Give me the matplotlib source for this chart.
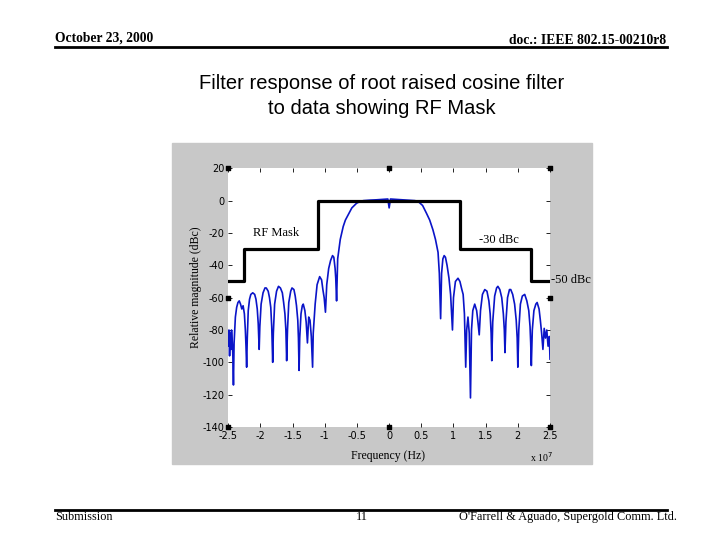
import matplotlib
matplotlib.use("Agg")
import matplotlib.pyplot as plt
from matplotlib.patches import Rectangle

plt.rcParams["axes.unicode_minus"] = False

# frequency in units of 1e7 Hz, magnitude in dBc
freq = [-2.5, -2.49, -2.48, -2.47, -2.46, -2.45, -2.44, -2.43, -2.42,
        -2.41, -2.39, -2.37, -2.35, -2.33, -2.31, -2.29, -2.27, -2.25, -2.235, -2.225, -2.215,
        -2.205, -2.19, -2.17, -2.15, -2.12, -2.09, -2.07, -2.05, -2.035, -2.02,
        -2.01, -1.99, -1.96, -1.93, -1.91, -1.88, -1.86, -1.84, -1.825, -1.81,
        -1.80, -1.78, -1.75, -1.72, -1.69, -1.66, -1.64, -1.62, -1.605, -1.593,
        -1.58, -1.56, -1.53, -1.51, -1.48, -1.46, -1.44, -1.42, -1.41, -1.40,
        -1.39, -1.37, -1.35, -1.335, -1.31, -1.29, -1.27, -1.25, -1.23, -1.21, -1.19,
        -1.18, -1.15, -1.12, -1.08, -1.05, -1.03, -1.01, -0.99,
        -0.97, -0.94, -0.91, -0.88, -0.86, -0.84, -0.83, -0.817,
        -0.80, -0.76, -0.714, -0.68, -0.637, -0.58, -0.506, -0.45, -0.4, -0.3, -0.2, -0.1, -0.02,
        0.0, 0.02, 0.1, 0.2, 0.3, 0.4, 0.45, 0.52, 0.58, 0.63, 0.68, 0.72, 0.76, 0.78, 0.80,
        0.815, 0.835, 0.855, 0.875, 0.90, 0.93, 0.955, 0.984,
        1.0, 1.03, 1.07, 1.10, 1.13, 1.15, 1.17, 1.19,
        1.205, 1.225, 1.245, 1.264,
        1.28, 1.30, 1.33, 1.36, 1.38, 1.40,
        1.42, 1.45, 1.486, 1.52, 1.55, 1.57, 1.585, 1.595,
        1.61, 1.64, 1.67, 1.69, 1.72, 1.75, 1.775, 1.79, 1.80,
        1.815, 1.84, 1.87, 1.89, 1.92, 1.95, 1.975, 1.99, 2.0,
        2.015, 2.04, 2.07, 2.107, 2.14, 2.17, 2.19, 2.2, 2.21,
        2.225, 2.25, 2.28, 2.30, 2.33, 2.35, 2.37, 2.39,
        2.41, 2.43, 2.45, 2.47, 2.49, 2.5]
mag = [-90, -80, -96, -82, -92, -80, -86, -95, -114,
       -88, -72, -66, -63, -62, -64, -67, -65, -70, -80, -90, -103,
       -85, -68, -61, -58, -57, -58, -61, -67, -76, -92,
       -78, -64, -57, -54, -54, -56, -60, -66, -78, -100,
       -82, -64, -56, -53, -54, -57, -63, -70, -80, -99,
       -80, -63, -56, -54, -55, -59, -65, -74, -85, -105,
       -85, -70, -65, -64, -68, -75, -88, -72, -74, -84, -103,
       -82, -64, -52, -47, -49, -55, -60, -69,
       -52, -42, -37, -34, -35, -42, -48, -62,
       -36, -24, -16, -12, -8.8, -4.5, -1.6, -0.5, 0, 0.3, 0.5, 0.8, 1,
       -4.5, 1, 0.8, 0.5, 0.3, 0, -0.5, -3, -7.8, -12, -18, -24, -32, -45, -73,
       -45, -36, -34, -35, -40, -48, -58, -80,
       -60, -50, -48, -50, -55, -58, -70, -103,
       -80, -72, -82, -122,
       -80, -68, -64, -68, -75, -83,
       -68, -58, -55, -56, -62, -70, -82, -99,
       -75, -59, -54, -53, -55, -60, -70, -80, -94,
       -75, -60, -55, -55, -58, -64, -74, -85, -103,
       -80, -64, -59, -58, -62, -68, -78, -88, -102,
       -80, -68, -64, -63, -67, -74, -82, -92,
       -79, -85, -80, -90, -84, -98]

# RF mask: band edges and levels
mask_edges = [-2.5, -2.25, -1.1, 1.1, 2.2, 2.5]
mask_levels = [-50, -30, 0, -30, -50, -50]

x_ticks = [-2.5, -2, -1.5, -1, -0.5, 0, 0.5, 1, 1.5, 2, 2.5]
x_labels = ["-2.5", "-2", "-1.5", "-1", "-0.5", "0", "0.5", "1", "1.5", "2", "2.5"]
y_ticks = [20, 0, -20, -40, -60, -80, -100, -120, -140]

serif = "Liberation Serif"

fig = plt.figure(figsize=(7.2, 5.4), dpi=100)
W, H = 720, 540

def fx(px):
    return px / W

def fy(py):
    return 1 - py / H

# slide header / footer
fig.text(fx(55), fy(38), "October 23, 2000", family=serif, weight="bold", fontsize=9.8, va="center")
fig.text(fx(666), fy(40), "doc.: IEEE 802.15-00210r8", family=serif, weight="bold", fontsize=9.8,
         va="center", ha="right")
fig.add_artist(plt.Line2D([fx(55), fx(667)], [fy(47), fy(47)], color="black", lw=2))
fig.text(fx(382), fy(96), "Filter response of root raised cosine filter\nto data showing RF Mask",
         family="Liberation Sans", fontsize=14.5, ha="center", va="center", linespacing=1.35)
fig.add_artist(plt.Line2D([fx(55), fx(667)], [fy(510), fy(510)], color="black", lw=2))
fig.text(fx(55), fy(517), "Submission", family=serif, fontsize=8.8, va="center")
fig.text(fx(362), fy(517), "11", family=serif, fontsize=8.8, va="center", ha="center")
fig.text(fx(677), fy(517), "O'Farrell & Aguado, Supergold Comm. Ltd.", family=serif, fontsize=8.8,
         va="center", ha="right")

# gray MATLAB figure background
fig.add_artist(Rectangle((fx(172), fy(464)), fx(592 - 172), (464 - 143) / H,
                         transform=fig.transFigure, color="#c8c8c8", zorder=0))

ax = fig.add_axes([fx(228.3), fy(427), fx(550 - 228.3), (427 - 168.3) / H])
ax.set_facecolor("white")
ax.plot(freq, mag, color="#0a14c8", lw=1.2)
ax.plot(mask_edges, mask_levels, color="black", lw=2.3, drawstyle="steps-post")

ax.set_xlim(-2.5, 2.5)
ax.set_ylim(-140, 20)
ax.set_xticks(x_ticks)
ax.set_xticklabels(x_labels)
ax.set_yticks(y_ticks)
ax.tick_params(direction="in", length=3, width=0.6, labelsize=7, top=True, right=True, pad=3,
               colors="black")
for s in ax.spines.values():
    s.set_visible(False)

ax.text(-1.75, -20, "RF Mask", family=serif, fontsize=9, ha="center", va="center")
ax.text(1.7, -24.5, "-30 dBc", family=serif, fontsize=9, ha="center", va="center")
ax.text(2.52, -49, "-50 dBc", family=serif, fontsize=9, ha="left", va="center", clip_on=False)

# selection handles
hx = [0, 0.5, 1, 0, 1, 0, 0.5, 1]
hy = [1, 1, 1, 0.5, 0.5, 0, 0, 0]
ax.scatter(hx, hy, marker="s", s=12, color="black", transform=ax.transAxes, clip_on=False, zorder=5)

fig.text(fx(388), fy(456), "Frequency (Hz)", family=serif, fontsize=8.5, ha="center", va="center")
fig.text(fx(530), fy(457), r"x 10$^{7}$", family=serif, fontsize=7, ha="left", va="center")
fig.text(fx(196), fy(287), "Relative magnitude (dBc)", family=serif, fontsize=8.5, rotation=90,
         ha="center", va="center")

fig.savefig("out.png", dpi=100)
